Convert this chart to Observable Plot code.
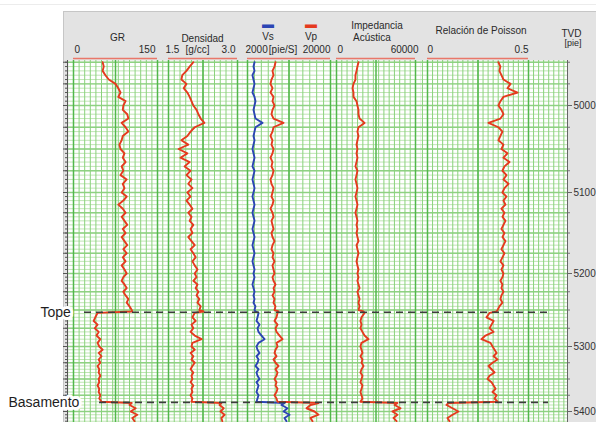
<!DOCTYPE html>
<html>
<head>
<meta charset="utf-8">
<script src="https://cdn.jsdelivr.net/npm/d3@7"></script>
<script src="https://cdn.jsdelivr.net/npm/@observablehq/plot@0.6"></script>
<style>
  body { margin: 0; background: #fff; }
  #chart { position: relative; width: 596px; height: 422px; overflow: hidden; background: #fff;
           font-family: Arial, "Liberation Sans", sans-serif; }
  #chart .topline { position: absolute; left: 0; top: 4px; width: 596px; border-top: 1px solid #ececec; }
  #chart .panel { position: absolute; left: 63px; top: 11px; width: 533px; height: 411px; background: #e3e3e3;
                  border-left: 1px solid #c6c6c6; border-top: 1px solid #c6c6c6; box-sizing: border-box; }
</style>
</head>
<body>
<div id="chart"><div class="topline"></div><div class="panel"></div></div>
<script>
// ---------------- data ----------------
const depth = [4950,4955,4960,4965,4970,4975,4980,4985,4990,4995,
  5000,5005,5010,5015,5020,5025,5030,5035,5040,5045,
  5050,5055,5060,5065,5070,5075,5080,5085,5090,5095,
  5100,5105,5110,5115,5120,5125,5130,5135,5140,5145,
  5150,5155,5160,5165,5170,5175,5180,5185,5190,5195,
  5200,5205,5210,5215,5220,5225,5230,5235,5240,5245,
  5250,5252,5254,5260,5265,5270,5275,5280,5285,5290,5295,
  5300,5305,5310,5315,5320,5325,5330,5335,5340,5345,
  5350,5355,5360,5365,5370,5375,5380,5385,5387,5390,5395,
  5400,5405,5410,5415];

const gr = [52,54,52,57,63,75,80,84,80,93,
  89,88,96,98,86,93,98,88,86,82,
  84,91,88,93,86,89,84,95,88,91,
  86,95,89,80,88,93,86,91,96,88,
  93,86,91,96,89,95,88,93,86,91,
  95,89,86,91,95,89,93,98,95,100,
  104,105,43,39,36,43,38,45,41,48,43,
  46,52,45,50,45,48,43,46,45,48,
  45,46,43,46,45,48,46,50,104,100,111,
  102,114,105,109];

const densidad = [2.04,1.96,1.89,1.80,1.78,1.89,1.83,1.91,1.96,2.00,
  2.04,2.11,2.15,2.20,2.28,2.07,1.98,1.91,1.78,1.93,
  1.72,1.91,1.76,1.96,1.85,1.98,1.89,2.00,1.93,2.02,
  1.91,1.98,1.89,1.96,2.02,1.93,2.00,1.96,2.04,1.98,
  2.02,1.93,2.00,2.07,1.98,2.04,2.09,2.02,2.07,2.13,
  2.07,2.11,2.04,2.13,2.09,2.15,2.11,2.17,2.13,2.20,
  2.17,2.26,2.07,2.02,2.09,2.00,2.04,1.98,2.07,2.22,2.02,
  2.00,2.07,1.98,2.04,2.00,2.07,2.02,1.98,2.04,2.00,
  2.02,1.98,2.04,2.00,2.02,1.98,2.02,2.00,2.65,2.61,2.70,
  2.63,2.72,2.65,2.67];

const vs = [3520,3300,3520,3080,3300,3520,3300,3080,3520,3730,
  3520,3300,3520,3730,5250,3730,3520,3300,3520,3300,
  3080,3300,3520,3300,3080,3520,3300,3080,3300,3520,
  3300,3080,3300,3520,3300,3080,3300,3520,3300,3080,
  3300,3520,3300,3080,3300,3520,3300,3080,3300,3520,
  3300,3520,3300,3080,3300,3520,3300,3520,3300,3730,
  3520,3730,4390,4170,3950,4600,4170,4390,5040,5690,4390,
  3950,4170,4600,3950,4390,4170,3730,4390,3950,4170,
  4600,3950,4390,4170,3950,4390,4170,3950,10020,9370,10670,
  9810,11110,10020,10460];

const vp = [8070,7860,7420,7640,7200,6990,7420,6990,7640,7420,
  7860,7420,7200,7640,9810,7640,7420,6990,7420,7200,
  7640,7420,6990,7420,7200,7640,7420,6990,7200,7640,
  7420,7200,7640,7420,6990,7420,7640,7200,7420,7640,
  7200,7420,7860,7420,7200,7640,7420,7860,7420,7640,
  7860,7420,7640,8070,7640,7860,7420,7860,7640,8070,
  7860,8720,8510,8290,7860,8510,8070,8290,8940,9590,8290,
  8510,8070,7860,8290,7640,8070,8720,8070,8510,8290,
  7860,8290,8070,8510,8290,7860,8290,8510,17400,15660,14800,
  16530,17400,15660,16100];

const impedancia = [16700,15900,15200,14400,14400,12900,12200,12900,12900,15200,
  15900,16700,16700,17500,21300,16700,15900,16700,15900,15200,
  15900,15200,15900,15200,14400,15900,15200,14400,15200,15900,
  15200,14400,15200,15900,15200,14400,15200,15900,15200,15900,
  15200,15900,16700,15200,15900,16700,15900,15200,15900,16700,
  15900,16700,15900,16700,17500,15900,16700,17500,16700,17500,
  16700,20500,21300,19000,18200,19000,18200,19700,21300,24300,19000,
  18200,19000,19700,18200,19700,19000,20500,19000,18200,19700,
  19000,18200,19700,19000,18200,19000,19700,18200,46300,44100,48600,
  42500,46300,43300,45600];

const poisson = [0.351,0.361,0.356,0.366,0.376,0.411,0.396,0.446,0.376,0.361,
  0.351,0.366,0.376,0.361,0.302,0.351,0.371,0.361,0.351,0.376,
  0.366,0.396,0.376,0.406,0.381,0.371,0.391,0.376,0.401,0.381,
  0.371,0.391,0.376,0.386,0.366,0.381,0.371,0.386,0.376,0.366,
  0.381,0.371,0.386,0.376,0.366,0.381,0.371,0.361,0.376,0.366,
  0.376,0.371,0.361,0.371,0.366,0.376,0.366,0.361,0.371,0.356,
  0.347,0.342,0.307,0.292,0.327,0.317,0.307,0.327,0.287,0.267,0.312,
  0.322,0.332,0.342,0.327,0.347,0.322,0.302,0.317,0.332,0.307,
  0.297,0.317,0.327,0.337,0.322,0.342,0.332,0.347,0.104,0.094,0.124,
  0.153,0.124,0.099,0.109];

const horizons = [{depth: 5253, name: "Tope"}, {depth: 5386, name: "Basamento"}];
const depthTicks = [5000, 5100, 5200, 5300, 5400];

// ---------------- layout & style ----------------
const RED = "#e53a1e", BLUE = "#2c45b4";
const FONT = "Arial, 'Liberation Sans', sans-serif";
const W = 596, H = 422, TOP = 60;
// depth axis of the figure: piecewise calibration on the TVD labels of the reference
const depthWarp = d3.scaleLinear()
  .domain([4948, 5000, 5100, 5200, 5300, 5400, 5417])
  .range([4948, 4948 + 45 * 469 / 362, 4948 + 132 * 469 / 362, 4948 + 213 * 469 / 362,
          4948 + 286 * 469 / 362, 4948 + 351 * 469 / 362, 5417]);
const yScale = {domain: [4948, 5417], range: [TOP, H], transform: d => depthWarp(d), axis: null, label: null};
const hMinor = d3.range(4950, 5420, 5);
const hMajor = d3.range(4950, 5420, 25);

const tracks = [
  {left: 68, width: 94, domain: [0, 150], range: [5, 89], step: 10, major: 75,
   curves: [{values: gr, stroke: RED}],
   scale: [{v: 0, s: "0", anchor: "start", dx: 1}, {v: 150, s: "150", anchor: "end", dx: -2}],
   titles: [{s: "GR", dx: 2, dy: -27}]},
  {left: 162, width: 80, domain: [1.5, 3.0], range: [6, 75], step: 0.125, major: 0.75,
   curves: [{values: densidad, stroke: RED}],
   scale: [{v: 1.5, s: "1.5", anchor: "start", dx: -3}, {v: 3.0, s: "3.0", anchor: "end", dx: -2}],
   titles: [{s: "Densidad", dx: 0, dy: -26}, {s: "[g/cc]", dx: -5, dy: -15}]},
  {left: 242, width: 91, domain: [2000, 20000], range: [5, 88], step: 1500, major: 9000,
   curves: [{values: vs, stroke: BLUE}, {values: vp, stroke: RED}],
   scale: [{v: 2000, s: "2000", anchor: "start", dx: -2}, {v: 20000, s: "20000", anchor: "end", dx: 0}],
   titles: [{s: "Vs", dx: -20, dy: -28}, {s: "Vp", dx: 23, dy: -28}, {s: "[pie/S]", dx: -5, dy: -15}],
   swatches: [{color: BLUE, dx: -20}, {color: RED, dx: 23}]},
  {left: 333, width: 87, domain: [0, 60000], range: [3, 82], step: 4000, major: 30000,
   curves: [{values: impedancia, stroke: RED}],
   scale: [{v: 0, s: "0", anchor: "start", dx: 1}, {v: 60000, s: "60000", anchor: "end", dx: 3}],
   titles: [{s: "Impedancia", dx: 0, dy: -39}, {s: "Acústica", dx: -5, dy: -27}]},
  {left: 420, width: 147, domain: [0, 0.5], range: [7, 108], step: 0.025, major: 0.25,
   curves: [{values: poisson, stroke: RED}],
   scale: [{v: 0, s: "0", anchor: "start", dx: 0}, {v: 0.5, s: "0.5", anchor: "end", dx: 0}],
   titles: [{s: "Relación de Poisson", dx: -13, dy: -34}]}
];

function gridValues(t, step) {
  const [d0, d1] = t.domain, [r0, r1] = t.range;
  const k = (d1 - d0) / (r1 - r0);
  const lo = d0 + (0 - r0) * k, hi = d0 + (t.width - r0) * k;
  const n0 = Math.ceil((lo - d0) / step - 1e-9), n1 = Math.floor((hi - d0) / step + 1e-9);
  return d3.range(n0, n1 + 1).map(n => d0 + n * step);
}

function styleSvg(el, left) {
  el.style.position = "absolute";
  el.style.left = left + "px";
  el.style.top = "0px";
  el.style.background = "transparent";
  el.style.overflow = "hidden";
  el.style.fontFamily = FONT;
  el.style.color = "#2a2a2a";
  el.style.maxWidth = "none";
}

const chart = document.getElementById("chart");

for (const t of tracks) {
  const marks = [
    Plot.frame({fill: "white", stroke: null}),
    Plot.ruleY(hMinor, {y: d => d, stroke: "#bfe5b4", strokeWidth: 1}),
    Plot.ruleY(hMajor, {y: d => d, stroke: "#8fd183", strokeWidth: 1.3}),
    Plot.ruleX(gridValues(t, t.step), {x: d => d, stroke: "#8ad27c", strokeWidth: 1}),
    Plot.ruleX(gridValues(t, t.major), {x: d => d, stroke: "#52b74b", strokeWidth: 1.5}),
    Plot.ruleY([4948], {y: d => d, x1: t.domain[0], x2: t.domain[1], stroke: "#e9776a", strokeWidth: 1.6, dy: -2})
  ];
  for (const c of t.curves) {
    const rows = depth.map((d, i) => ({d, v: c.values[i]}));
    marks.push(Plot.line(rows, {x: "v", y: "d", stroke: c.stroke, strokeWidth: 1.9, strokeLinejoin: "round"}));
  }
  for (const s of t.scale) {
    marks.push(Plot.text([s], {x: "v", text: "s", frameAnchor: "top", dx: s.dx, dy: -15,
      textAnchor: s.anchor, fontSize: 10, fill: "#2a2a2a"}));
  }
  for (const s of t.titles) {
    marks.push(Plot.text([s], {text: "s", frameAnchor: "top", dx: s.dx, dy: s.dy, fontSize: 10, fill: "#2a2a2a"}));
  }
  for (const s of (t.swatches || [])) {
    marks.push(Plot.text(["▬"], {text: d => d, frameAnchor: "top", dx: s.dx, dy: -41, fontSize: 12, fill: s.color}));
  }
  const svg = Plot.plot({
    width: t.width, height: H,
    marginTop: TOP, marginBottom: 0, marginLeft: 0, marginRight: 0,
    x: {domain: t.domain, range: t.range, axis: null},
    y: yScale,
    marks
  });
  styleSvg(svg, t.left);
  chart.appendChild(svg);
}

// overlay: frame edges, depth axes, horizons and labels
const overlay = Plot.plot({
  width: W, height: H,
  marginTop: TOP, marginBottom: 0, marginLeft: 67, marginRight: 29,
  y: yScale,
  marks: [
    Plot.frame({anchor: "left", stroke: "#555"}),
    Plot.frame({anchor: "right", stroke: "#666"}),
    Plot.axisY(d3.range(4950, 5420, 5), {anchor: "left", tickSize: 2, tickFormat: () => "", stroke: "#555", label: null}),
    Plot.axisY(d3.range(4950, 5420, 25), {anchor: "left", tickSize: 4, tickFormat: () => "", stroke: "#555", label: null}),
    Plot.axisY(d3.range(4950, 5420, 25), {anchor: "right", tickSize: 2, tickFormat: () => "", stroke: "#777", label: null}),
    Plot.axisY(depthTicks, {anchor: "right", tickSize: 4, tickPadding: 2, tickFormat: d => String(d),
      fontSize: 10, fill: "#333", stroke: "#666", label: null}),
    Plot.text(["TVD"], {text: d => d, frameAnchor: "top-right", dx: 14, dy: -31, fontSize: 10, fill: "#2a2a2a"}),
    Plot.text(["[pie]"], {text: d => d, frameAnchor: "top-right", dx: 14, dy: -21, fontSize: 9, fill: "#2a2a2a"}),
    Plot.ruleY([horizons[0]], {y: "depth", insetLeft: 17, insetRight: 19, stroke: "#3c3c3c",
      strokeWidth: 1.6, strokeDasharray: "7,5"}),
    Plot.ruleY([horizons[1]], {y: "depth", insetLeft: 32, insetRight: 19, stroke: "#3c3c3c",
      strokeWidth: 1.6, strokeDasharray: "7,5"}),
    Plot.text([horizons[0]], {y: "depth", text: "name", frameAnchor: "left", dx: -27, textAnchor: "start",
      fontSize: 14, fill: "#1e1e1e", stroke: "white", strokeWidth: 6, paintOrder: "stroke"}),
    Plot.text([horizons[1]], {y: "depth", text: "name", frameAnchor: "left", dx: -59, textAnchor: "start",
      fontSize: 14, fill: "#1e1e1e", stroke: "white", strokeWidth: 6, paintOrder: "stroke"})
  ]
});
styleSvg(overlay, 0);
chart.appendChild(overlay);
</script>
</body>
</html>
